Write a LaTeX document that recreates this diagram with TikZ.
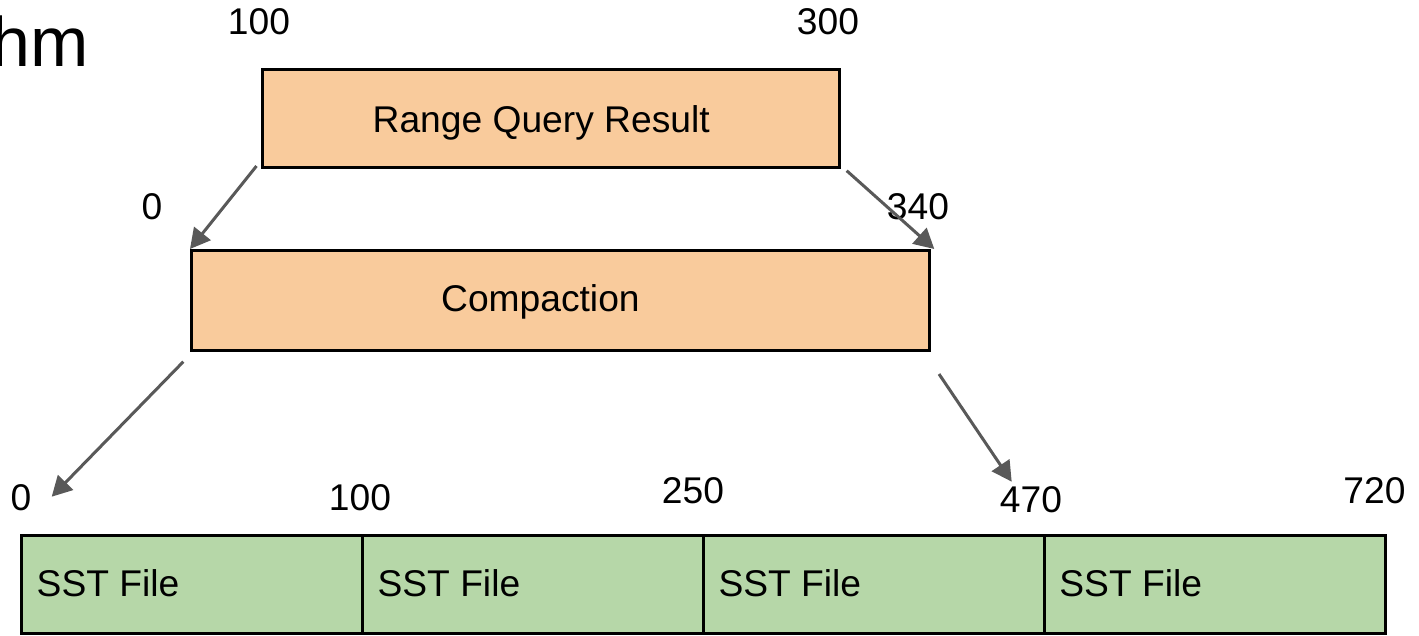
\documentclass[tikz,border=0pt]{standalone}
\usepackage{fontspec}
\setmainfont{Liberation Sans}
\usetikzlibrary{arrows.meta}
\definecolor{boxorange}{HTML}{F9CB9C}
\definecolor{boxgreen}{HTML}{B6D7A8}
\definecolor{arrowgray}{HTML}{595959}
\begin{document}
\begin{tikzpicture}[x=1pt,y=-1pt,
  txt/.style={font=\fontsize{37.2}{40}\selectfont, inner sep=0pt},
  num/.style={txt, anchor=base},
  orangebox/.style={draw=black, line width=3pt, fill=boxorange, inner sep=0pt, anchor=north west},
  sstbox/.style={draw=black, line width=3pt, fill=boxgreen, inner sep=0pt, anchor=north west,
                 minimum width=340.9pt, minimum height=98pt},
  arr/.style={draw=arrowgray, line width=3pt, -{Triangle[length=20pt,width=21pt]}}]
\useasboundingbox (0,0) rectangle (1419,635);

% title fragment
\node[font=\fontsize{70}{80}\selectfont, inner sep=0pt, anchor=base east] (title) at (89,66) {hm};

% boxes
\node[orangebox, minimum width=577.5pt, minimum height=98.5pt] (rq) at (260.5,67.5) {};
\node[txt, anchor=base] (rqtext) at (541.2,132.7) {Range Query Result};
\node[orangebox, minimum width=737.5pt, minimum height=99.5pt] (comp) at (190,249) {};
\node[txt, anchor=base] (comptext) at (540.4,311) {Compaction};

\node[sstbox] (s1) at (20,534) {};
\node[sstbox] (s2) at (360.9,534) {};
\node[sstbox] (s3) at (701.8,534) {};
\node[sstbox] (s4) at (1042.7,534) {};
\node[txt, anchor=base west] (t1) at (36.5,596) {SST File};
\node[txt, anchor=base west] (t2) at (377.4,596) {SST File};
\node[txt, anchor=base west] (t3) at (718.3,596) {SST File};
\node[txt, anchor=base west] (t4) at (1059.2,596) {SST File};

% numbers
\node[num] (n1) at (259,34.5) {100};
\node[num] (n2) at (828,34.5) {300};
\node[num] (n3) at (152,219.5) {0};
\node[num] (n4) at (918,219.5) {340};
\node[num] (n5) at (21,510.5) {0};
\node[num] (n6) at (360,510.5) {100};
\node[num] (n7) at (693,503) {250};
\node[num] (n8) at (1031,512) {470};
\node[num] (n9) at (1374.5,503) {720};

% arrow end points
\coordinate (a1s) at (256.5,166);
\coordinate (a2s) at (846.7,170.7);
\coordinate (a2e) at (934.3,249);
\coordinate (a3s) at (183.3,361.7);
\coordinate (a3e) at (51.7,496.7);
\coordinate (a4s) at (939,374);
\coordinate (a4e) at (1011.7,481.7);

\draw[arr] (a1s) -- (comp.north west);
\draw[arr] (a2s) -- (a2e);
\draw[arr] (a3s) -- (a3e);
\draw[arr] (a4s) -- (a4e);
\end{tikzpicture}
\end{document}
